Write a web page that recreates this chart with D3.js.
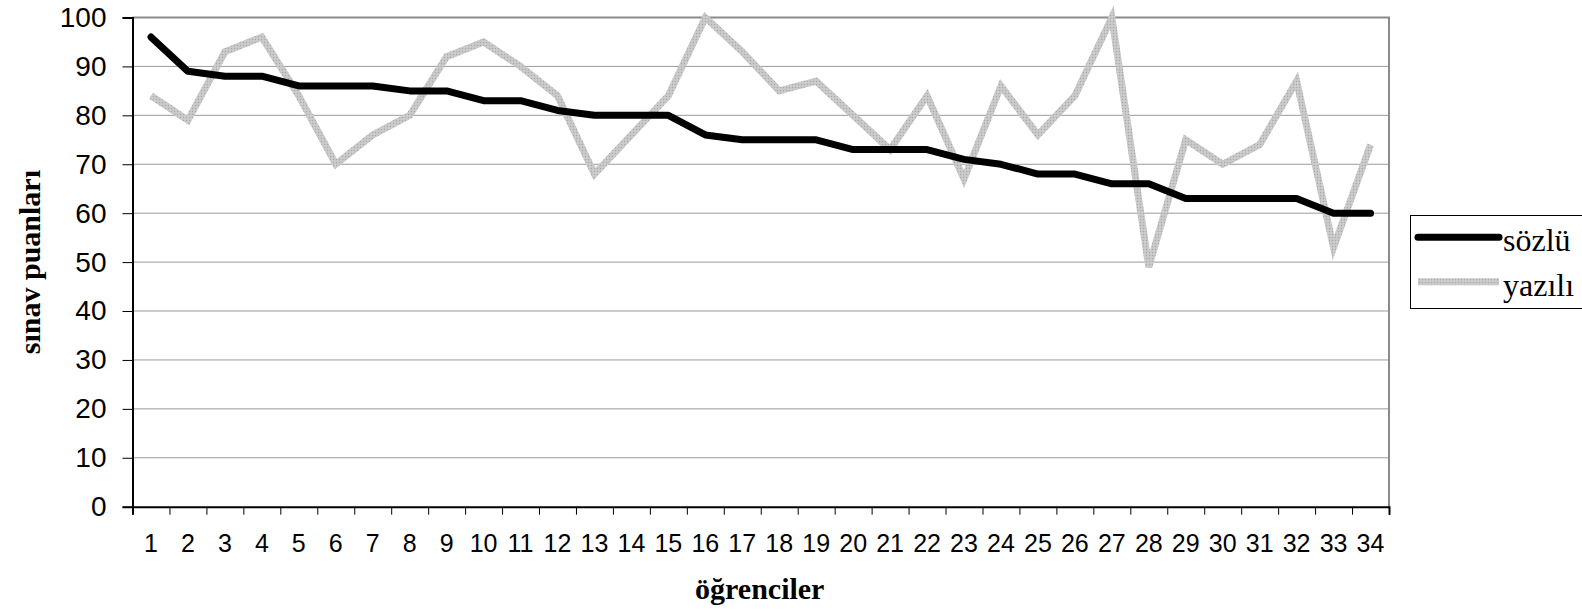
<!DOCTYPE html>
<html>
<head>
<meta charset="utf-8">
<script src="https://cdn.jsdelivr.net/npm/d3@7"></script>
<style>
  body { margin: 0; background: #fff; }
  svg { display: block; }
  .ylab text { font-family: "Liberation Sans", Arial, sans-serif; font-size: 28px; fill: #000; }
  .xlab text { font-family: "Liberation Sans", Arial, sans-serif; font-size: 25px; fill: #000; }
  .title { font-family: "Liberation Serif", "Times New Roman", serif; font-size: 30px; font-weight: bold; }
  .legend text { font-family: "Liberation Serif", "Times New Roman", serif; font-size: 32px; }
</style>
</head>
<body>
<div id="chart"></div>
<script>
const students = d3.range(1, 35).map(String);
const sozlu = [96, 89, 88, 88, 86, 86, 86, 85, 85, 83, 83, 81, 80, 80, 80, 76, 75, 75, 75, 73,
               73, 73, 71, 70, 68, 68, 66, 66, 63, 63, 63, 63, 60, 60];
const yazili = [84, 79, 93, 96, 84, 70, 76, 80, 92, 95, 90, 84, 68, 76, 84, 100, 93, 85, 87, 80,
                73, 84, 67, 86, 76, 84, 100, 49, 75, 70, 74, 87, 53, 74];
const yTicks = [0, 10, 20, 30, 40, 50, 60, 70, 80, 90, 100];

const W = 1582, H = 613;
const plotLeft = 132.5, plotRight = 1389, plotTop = 17.5, plotBottom = 506.7;

const svg = d3.select("#chart").append("svg")
    .attr("width", W)
    .attr("height", H);

// dotted texture for the grey series
const pat = svg.append("defs").append("pattern")
    .attr("id", "greyTex")
    .attr("patternUnits", "userSpaceOnUse")
    .attr("width", 3).attr("height", 3);
pat.append("rect").attr("width", 3).attr("height", 3).attr("fill", "#c6c6c6");
pat.append("rect").attr("width", 1).attr("height", 1).attr("fill", "#a9a9a9");
pat.append("rect").attr("x", 1.5).attr("y", 1.5).attr("width", 1).attr("height", 1).attr("fill", "#dcdcdc");

const x = d3.scaleBand().domain(students).range([plotLeft, plotRight]);
const xEdge = d3.scaleLinear().domain([0, students.length]).range([plotLeft, plotRight]);
const y = d3.scaleLinear().domain([0, 100]).range([plotBottom, plotTop]);

// gridlines
svg.append("g")
    .selectAll("line")
    .data(yTicks.filter(d => d > 0 && d < 100))
    .enter().append("line")
    .attr("x1", plotLeft).attr("x2", plotRight)
    .attr("y1", d => y(d)).attr("y2", d => y(d))
    .attr("stroke", "#9a9a9a")
    .attr("stroke-width", 1);

// plot border (top and right grey)
svg.append("path")
    .attr("d", `M${plotLeft},${y(100)}H${plotRight}V${plotBottom}`)
    .attr("fill", "none")
    .attr("stroke", "#8a8a8a")
    .attr("stroke-width", 2);

// y axis
const yAxis = svg.append("g")
    .attr("class", "ylab")
    .attr("transform", `translate(${plotLeft},0)`)
    .call(d3.axisLeft(y).tickValues(yTicks).tickSize(10).tickPadding(16));
yAxis.select(".domain").attr("stroke", "#000").attr("stroke-width", 2);
yAxis.selectAll(".tick line").attr("stroke", "#000");

// x axis: ticks at band edges, labels at band centres
const xTicks = svg.append("g")
    .attr("transform", `translate(0,${plotBottom})`)
    .call(d3.axisBottom(xEdge).tickValues(d3.range(0, students.length + 1)).tickSize(8).tickFormat(""));
xTicks.select(".domain").attr("stroke", "#000").attr("stroke-width", 2);
xTicks.selectAll(".tick line").attr("stroke", "#000");

const xLabels = svg.append("g")
    .attr("class", "xlab")
    .attr("transform", `translate(0,${plotBottom})`)
    .call(d3.axisBottom(x).tickSize(0).tickPadding(28));
xLabels.select(".domain").remove();

// series
const line = d3.line()
    .x((d, i) => x(students[i]) + x.bandwidth() / 2)
    .y(d => y(d));

svg.append("path")
    .datum(yazili)
    .attr("d", line)
    .attr("fill", "none")
    .attr("stroke", "url(#greyTex)")
    .attr("stroke-width", 7)
    .attr("stroke-linejoin", "miter");

svg.append("path")
    .datum(sozlu)
    .attr("d", line)
    .attr("fill", "none")
    .attr("stroke", "#000")
    .attr("stroke-width", 7)
    .attr("stroke-linejoin", "round")
    .attr("stroke-linecap", "round");

// axis titles
svg.append("text")
    .attr("class", "title")
    .attr("x", (plotLeft + plotRight) / 2 - 1)
    .attr("y", 599)
    .attr("text-anchor", "middle")
    .text("öğrenciler");

svg.append("text")
    .attr("class", "title")
    .attr("transform", `translate(40,${(plotTop + plotBottom) / 2}) rotate(-90)`)
    .attr("text-anchor", "middle")
    .text("sınav puanları");

// legend
const legend = svg.append("g").attr("class", "legend");
legend.append("rect")
    .attr("x", 1410.5).attr("y", 215.5)
    .attr("width", 200).attr("height", 93)
    .attr("fill", "#fff")
    .attr("stroke", "#000")
    .attr("stroke-width", 1);

const items = [
  { name: "sözlü", stroke: "#000", cap: "round", y: 237.3 },
  { name: "yazılı", stroke: "url(#greyTex)", cap: "butt", y: 281.7 }
];
items.forEach(it => {
  legend.append("line")
      .attr("x1", 1418).attr("x2", 1499)
      .attr("y1", it.y).attr("y2", it.y)
      .attr("stroke", it.stroke)
      .attr("stroke-width", 7)
      .attr("stroke-linecap", it.cap);
  legend.append("text")
      .attr("x", 1503)
      .attr("y", it.y + 14)
      .text(it.name);
});
</script>
</body>
</html>
